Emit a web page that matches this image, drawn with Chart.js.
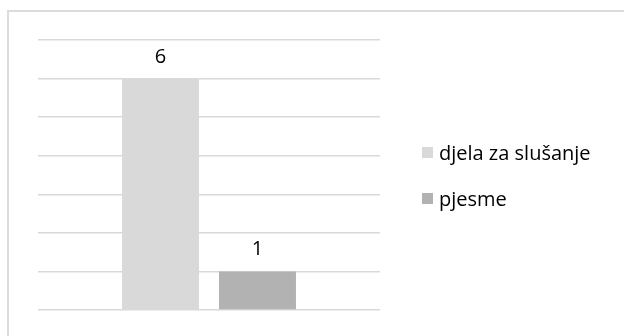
<!DOCTYPE html>
<html>
<head>
<meta charset="utf-8">
<script src="https://cdn.jsdelivr.net/npm/chart.js@4/dist/chart.umd.min.js"></script>
<style>
  html, body { margin: 0; padding: 0; background: #fff; }
  #wrap { position: relative; width: 624px; height: 336px; overflow: hidden; }
  #frame { position: absolute; left: 7px; top: 10px; width: 700px; height: 400px;
           border-left: 2px solid #dcdcdc; border-top: 2px solid #dcdcdc; }
  #chart { position: absolute; left: 0; top: 0; }
  #legend { position: absolute; left: 422px; top: 140px; font-family: "Open Sans", sans-serif;
            font-size: 20px; color: #000; }
  .item { display: flex; align-items: center; height: 24px; margin-bottom: 22px; }
  .sw { width: 11px; height: 11px; margin-right: 6px; }
</style>
</head>
<body>
<div id="wrap">
  <div id="frame"></div>
  <canvas id="chart" width="624" height="336"></canvas>
  <div id="legend"></div>
</div>
<script>
// Series shown in the chart
const categories = [''];
const seriesNames = ['djela za slušanje', 'pjesme'];
const seriesValues = [[6], [1]];
const seriesColors = ['#d9d9d9', '#b2b2b2'];
const yTicks = [0, 1, 2, 3, 4, 5, 6, 7];

// Value labels above each bar
const valueLabels = {
  id: 'valueLabels',
  afterDatasetsDraw(chart) {
    const ctx = chart.ctx;
    ctx.save();
    ctx.font = '20px "Open Sans", sans-serif';
    ctx.fillStyle = '#000';
    ctx.textAlign = 'center';
    ctx.textBaseline = 'alphabetic';
    chart.data.datasets.forEach((ds, i) => {
      chart.getDatasetMeta(i).data.forEach((bar, j) => {
        ctx.fillText(String(ds.data[j]), bar.x, bar.y - 16);
      });
    });
    ctx.restore();
  }
};

const chart = new Chart(document.getElementById('chart'), {
  type: 'bar',
  data: {
    labels: categories,
    datasets: seriesNames.map((name, i) => ({
      label: name,
      data: seriesValues[i],
      backgroundColor: seriesColors[i],
      barPercentage: 0.794,
      categoryPercentage: 0.567
    }))
  },
  options: {
    responsive: false,
    animation: false,
    layout: { padding: { left: 38, right: 244, top: 40, bottom: 26 } },
    plugins: { legend: { display: false }, tooltip: { enabled: false } },
    scales: {
      x: { display: false },
      y: {
        min: yTicks[0],
        max: yTicks[yTicks.length - 1],
        afterBuildTicks: (axis) => { axis.ticks = yTicks.map(v => ({ value: v })); },
        grid: { color: '#d9d9d9', lineWidth: 1.5, drawTicks: false },
        border: { display: false },
        ticks: { display: false }
      }
    }
  },
  plugins: [valueLabels]
});

// Legend built from the same series
const legend = document.getElementById('legend');
seriesNames.forEach((name, i) => {
  const item = document.createElement('div');
  item.className = 'item';
  const sw = document.createElement('span');
  sw.className = 'sw';
  sw.style.background = seriesColors[i];
  const tx = document.createElement('span');
  tx.textContent = name;
  item.appendChild(sw);
  item.appendChild(tx);
  legend.appendChild(item);
});
</script>
</body>
</html>
